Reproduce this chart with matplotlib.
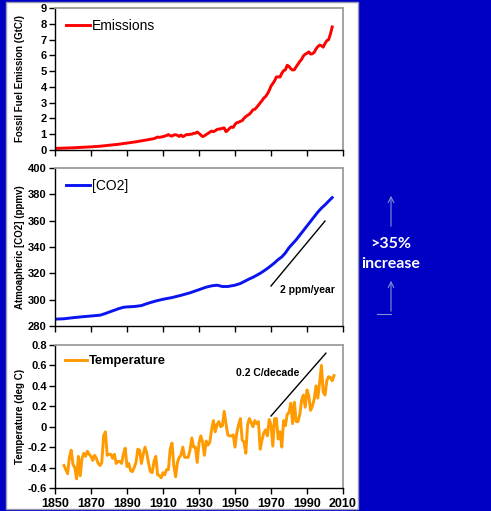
import matplotlib
matplotlib.use("Agg")
import matplotlib.pyplot as plt
from matplotlib.patches import Rectangle

plt.rcParams['font.family'] = ['Liberation Sans', 'DejaVu Sans']

# ---------------- data ----------------
em_years = [1850, 1855, 1860, 1865, 1870, 1875, 1880, 1885, 1890, 1895, 1900, 1903, 1905, 1907,
            1908, 1910, 1912, 1913, 1914, 1915, 1916, 1917, 1918, 1919, 1920, 1921, 1922, 1923,
            1924, 1925, 1926, 1927, 1928, 1929, 1930, 1931, 1932, 1933, 1934, 1935, 1936, 1937,
            1938, 1939, 1940, 1941, 1942, 1943, 1944, 1945, 1946, 1947, 1948, 1949, 1950, 1951,
            1952, 1953, 1954, 1955, 1956, 1957, 1958, 1959, 1960, 1961, 1962, 1963, 1964, 1965,
            1966, 1967, 1968, 1969, 1970, 1971, 1972, 1973, 1974, 1975, 1976, 1977, 1978, 1979,
            1980, 1981, 1982, 1983, 1984, 1985, 1986, 1987, 1988, 1989, 1990, 1991, 1992, 1993,
            1994, 1995, 1996, 1997, 1998, 1999, 2000, 2001, 2002, 2003, 2004]
emissions = [0.10, 0.12, 0.14, 0.17, 0.20, 0.24, 0.30, 0.36, 0.44, 0.52, 0.62, 0.68, 0.72, 0.82,
             0.80, 0.85, 0.92, 0.98, 0.90, 0.88, 0.95, 0.97, 0.93, 0.86, 0.95, 0.85, 0.90, 0.98,
             0.97, 1.00, 1.00, 1.06, 1.06, 1.14, 1.05, 0.95, 0.85, 0.90, 0.98, 1.05, 1.13, 1.20,
             1.16, 1.22, 1.30, 1.33, 1.34, 1.38, 1.40, 1.16, 1.25, 1.38, 1.46, 1.43, 1.62, 1.73,
             1.76, 1.82, 1.86, 2.01, 2.12, 2.20, 2.27, 2.40, 2.55, 2.58, 2.70, 2.84, 2.99, 3.13,
             3.29, 3.39, 3.56, 3.77, 4.05, 4.21, 4.39, 4.63, 4.64, 4.62, 4.86, 5.03, 5.08, 5.37,
             5.30, 5.15, 5.07, 5.09, 5.28, 5.44, 5.61, 5.75, 5.96, 6.07, 6.13, 6.22, 6.08, 6.10,
             6.19, 6.40, 6.55, 6.65, 6.61, 6.52, 6.75, 6.93, 6.99, 7.35, 7.80]

co2_years = [1850, 1855, 1860, 1865, 1870, 1875, 1878, 1882, 1885, 1888, 1890, 1894, 1898, 1900,
             1903, 1906, 1910, 1915, 1920, 1925, 1930, 1934, 1937, 1940, 1943, 1946, 1950, 1953,
             1956, 1958, 1960, 1962, 1964, 1966, 1968, 1970, 1972, 1974, 1976, 1978, 1980, 1982,
             1984, 1986, 1988, 1990, 1992, 1994, 1996, 1998, 2000, 2002, 2004]
co2 = [285.2, 285.5, 286.3, 287.0, 287.6, 288.2, 289.5, 291.5, 293.0, 294.2, 294.5, 294.8, 295.5,
       296.5, 297.8, 299.0, 300.3, 301.6, 303.3, 305.2, 307.6, 309.5, 310.5, 311.0, 310.0, 310.0,
       311.0, 312.3, 314.4, 315.8, 317.0, 318.5, 320.0, 321.8, 323.7, 325.8, 328.0, 330.5, 332.5,
       335.5, 339.5, 342.5, 345.5, 349.0, 352.5, 356.0, 359.5, 363.0, 366.5, 369.5, 372.0, 374.8,
       377.5]

temp_start_year = 1855
temperature = [-0.38, -0.42, -0.46, -0.30, -0.23, -0.37, -0.40, -0.51, -0.29, -0.48,  # 1855-1864
               -0.31, -0.26, -0.29, -0.24, -0.27, -0.29, -0.33, -0.28, -0.31, -0.36,  # 1865-1874
               -0.38, -0.35, -0.09, -0.05, -0.28, -0.27, -0.27, -0.31, -0.27, -0.36,  # 1875-1884
               -0.34, -0.34, -0.36, -0.27, -0.21, -0.39, -0.36, -0.43, -0.44, -0.40,  # 1885-1894
               -0.35, -0.22, -0.23, -0.36, -0.27, -0.20, -0.26, -0.36, -0.44, -0.45,  # 1895-1904
               -0.34, -0.29, -0.47, -0.48, -0.50, -0.45, -0.47, -0.42, -0.42, -0.22,  # 1905-1914
               -0.16, -0.38, -0.49, -0.35, -0.30, -0.28, -0.20, -0.30, -0.30, -0.30,  # 1915-1924
               -0.23, -0.11, -0.20, -0.20, -0.35, -0.16, -0.09, -0.15, -0.28, -0.14,  # 1925-1934
               -0.18, -0.15, -0.03, 0.06, -0.05, 0.02, 0.05, 0.00, 0.01, 0.15,        # 1935-1944
               0.03, -0.08, -0.09, -0.09, -0.08, -0.20, -0.06, 0.02, 0.08, -0.13,     # 1945-1954
               -0.15, -0.26, 0.02, 0.08, 0.04, 0.00, 0.06, 0.03, 0.05, -0.22,         # 1955-1964
               -0.13, -0.06, -0.03, -0.09, 0.07, 0.02, -0.19, 0.08, 0.08, -0.12,      # 1965-1974
               -0.05, -0.20, 0.06, 0.01, 0.12, 0.14, 0.23, 0.03, 0.24, 0.05,          # 1975-1984
               0.05, 0.12, 0.26, 0.31, 0.19, 0.36, 0.30, 0.16, 0.20, 0.27,            # 1985-1994
               0.40, 0.28, 0.43, 0.60, 0.34, 0.31, 0.45, 0.49, 0.48, 0.45, 0.50]      # 1995-2005
temp_years = [temp_start_year + i for i in range(len(temperature))]

x_ticks = [1850, 1870, 1890, 1910, 1930, 1950, 1970, 1990, 2010]
em_ticks = [0, 1, 2, 3, 4, 5, 6, 7, 8, 9]
co2_ticks = [280, 300, 320, 340, 360, 380, 400]
temp_ticks = [-0.6, -0.4, -0.2, 0, 0.2, 0.4, 0.6, 0.8]
temp_tick_labels = ['-0.6', '-0.4', '-0.2', '0', '0.2', '0.4', '0.6', '0.8']

co2_rate_line = ([1970, 2000], [310.4, 359.7])
temp_rate_line = ([1970, 2000.5], [0.105, 0.72])

# ---------------- figure ----------------
W, H = 491, 511
fig = plt.figure(figsize=(W / 100, H / 100), dpi=100)
fig.patch.set_facecolor('#0000C4')

# white slide panel
fig.patches.append(Rectangle((6 / W, 1 - 509 / H), (358 - 6) / W, (509 - 2) / H,
                             transform=fig.transFigure, facecolor='white',
                             edgecolor='#9A9AB0', linewidth=1.0, zorder=-5))


def px_axes(x0, y0, x1, y1):
    a = fig.add_axes([x0 / W, 1 - y1 / H, (x1 - x0) / W, (y1 - y0) / H])
    a.set_zorder(2)
    return a


ax1 = px_axes(55, 8, 343, 150)
ax2 = px_axes(55, 168, 343, 326)
ax3 = px_axes(55, 345, 343, 488)

for ax in (ax1, ax2, ax3):
    ax.set_xlim(1850, 2010)
    ax.set_xticks(x_ticks)
    for s in ('top', 'right'):
        ax.spines[s].set_color('#9C9C9C')
        ax.spines[s].set_linewidth(1.3)
    for s in ('left', 'bottom'):
        ax.spines[s].set_color('black')
        ax.spines[s].set_linewidth(1.0)
    ax.tick_params(direction='out', length=4, width=1, labelsize=8, pad=2)
    ax.tick_params(axis='x', labelsize=9, pad=3)
    ax.yaxis.set_label_coords(-0.104, 0.5)

ax1.tick_params(labelbottom=False)
ax2.tick_params(labelbottom=False)

leg_kw = dict(loc='upper left', frameon=False, handlelength=1.7,
              handletextpad=0.15, borderaxespad=0.45, borderpad=0.35)

# Emissions
ax1.plot(em_years, emissions, color='#FF0000', lw=2.1, label='Emissions')
ax1.set_ylim(0, 9)
ax1.set_yticks(em_ticks)
ax1.set_yticklabels([str(t) for t in em_ticks], fontweight='bold')
ax1.set_ylabel('Fossil Fuel Emission (GtC/)', fontsize=7, fontweight='bold')
ax1.legend(fontsize=10, **leg_kw)

# CO2
ax2.plot(co2_years, co2, color='#0A14F0', lw=2.1, label='[CO2]')
ax2.set_ylim(280, 400)
ax2.set_yticks(co2_ticks)
ax2.set_yticklabels([str(t) for t in co2_ticks], fontweight='bold')
ax2.set_ylabel('Atmoapheric [CO2] (ppmv)', fontsize=7, fontweight='bold')
ax2.legend(fontsize=10, **leg_kw)
ax2.plot(*co2_rate_line, color='black', lw=1.0)
ax2.text(1975, 307.5, '2 ppm/year', fontsize=7.5, fontweight='bold', va='center', ha='left')

# Temperature
ax3.plot(temp_years, temperature, color='#FF9A00', lw=2.1, label='Temperature')
ax3.set_ylim(-0.6, 0.8)
ax3.set_yticks(temp_ticks)
ax3.set_yticklabels(temp_tick_labels, fontweight='bold')
ax3.set_xticklabels([str(t) for t in x_ticks], fontweight='bold')
ax3.set_ylabel('Temperature (deg C)', fontsize=7, fontweight='bold')
leg = ax3.legend(fontsize=9.3, **leg_kw)
for t in leg.get_texts():
    t.set_fontweight('bold')
ax3.plot(*temp_rate_line, color='black', lw=1.0)
ax3.text(1950.5, 0.525, '0.2 C/decade', fontsize=7.5, fontweight='bold', va='center', ha='left')

# right-side annotation
arrow_col = '#7D93D8'
fig.text(391 / W, 1 - 244 / H, '>35%', color='white', fontsize=11.5, fontweight='bold',
         ha='center', va='center', family='Lato')
fig.text(391 / W, 1 - 264 / H, 'increase', color='white', fontsize=11.5, fontweight='bold',
         ha='center', va='center', family='Lato')
fig.add_artist(matplotlib.patches.FancyArrowPatch((391 / W, 1 - 229 / H), (391 / W, 1 - 193 / H),
               transform=fig.transFigure, arrowstyle='->,head_length=4,head_width=2',
               color=arrow_col, lw=0.8, mutation_scale=1))
fig.add_artist(matplotlib.patches.FancyArrowPatch((391 / W, 1 - 314 / H), (391 / W, 1 - 278 / H),
               transform=fig.transFigure, arrowstyle='->,head_length=4,head_width=2',
               color=arrow_col, lw=0.8, mutation_scale=1))
fig.add_artist(matplotlib.lines.Line2D([377 / W, 391 / W], [1 - 314 / H, 1 - 314 / H],
               transform=fig.transFigure, color=arrow_col, lw=0.8))

fig.savefig('out.png', dpi=100, facecolor=fig.get_facecolor())
